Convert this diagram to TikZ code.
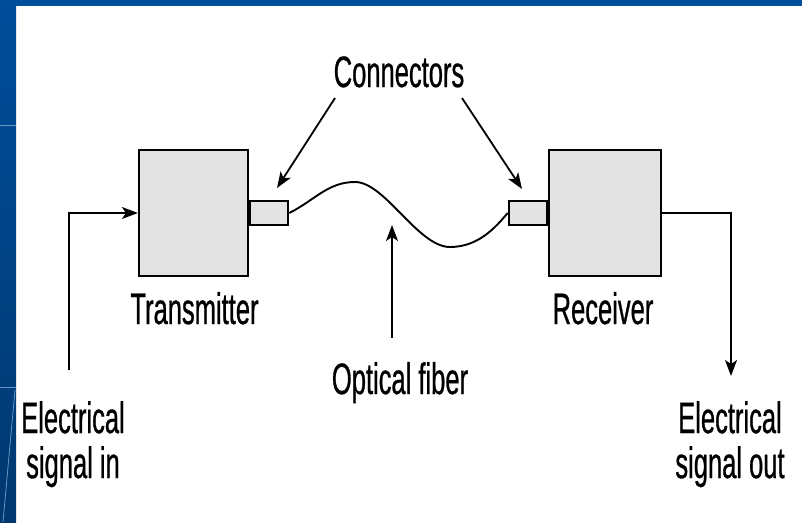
\documentclass[tikz,border=0pt]{standalone}
\usepackage{fontspec}
\usetikzlibrary{arrows.meta}
\newfontfamily\labfont[FakeStretch=0.58,FakeBold=0.6]{Liberation Sans}
\definecolor{slideblue}{HTML}{004D9A}
\definecolor{slidedark}{HTML}{00386F}
\definecolor{boxgray}{HTML}{E3E3E3}
\tikzset{
  blk/.style={draw=black, line width=2.2pt, fill=boxgray, inner sep=0pt},
  arr/.style={line width=1.8pt, -{Stealth[length=16pt,width=12pt,inset=4pt]}},
  wire/.style={line width=1.9pt},
  lab/.style={inner sep=0pt, font=\labfont\fontsize{44}{45}\selectfont, text=black},
}
\begin{document}
\begin{tikzpicture}[x=1pt,y=-1pt]
\useasboundingbox (0,0) rectangle (802,522);
% slide background
\fill[white] (0,0) rectangle (802,522);
\fill[slideblue] (0,0) rectangle (802,6);
\shade[top color=slideblue, bottom color=slidedark] (0,0) rectangle (16,522);
\draw[slideblue!60!white, line width=0.8pt] (0,125) -- (16,125);
\draw[slideblue!60!white, line width=0.8pt] (0,387) -- (16,387);
\draw[slideblue!60!white, line width=0.8pt] (15,390) -- (3,522);
% blocks
\node[blk, minimum width=109pt, minimum height=126pt] (tx) at (193.5,213) {};
\node[blk, minimum width=38pt, minimum height=24pt, anchor=west] (txc) at (tx.east) {};
\node[blk, minimum width=112pt, minimum height=126pt] (rx) at (605,213) {};
\node[blk, minimum width=38pt, minimum height=24pt, anchor=east] (rxc) at (rx.west) {};
% labels
\node[lab, anchor=base] (conn) at (399,87) {Connectors};
\node[lab, anchor=base] (txl) at (194.5,324) {Transmitter};
\node[lab, anchor=base] (rxl) at (603,324) {Receiver};
\node[lab, anchor=base] (fibl) at (400,394) {Optical fiber};
\node[lab, anchor=north, align=center] (inl) at (73,401) {Electrical\\signal in};
\node[lab, anchor=north, align=center] (outl) at (730,401) {Electrical\\signal out};
% fiber
\draw[wire, line join=round] (txc.east) .. controls (315,200) and (328,182) .. (355,182)
  .. controls (385,182) and (418,247) .. (450,247)
  .. controls (478,247) and (495,228) .. (rxc.west);
% arrows
\coordinate (c1s) at (335,98);
\coordinate (c1e) at (277,188);
\coordinate (c2s) at (462,98);
\coordinate (c2e) at (522,189);
\draw[arr] (c1s) -- (c1e);
\draw[arr] (c2s) -- (c2e);
\coordinate (fs) at (392,338);
\coordinate (fe) at (392,225);
\draw[arr] (fs) -- (fe);
\coordinate (ins) at (69,370);
\draw[arr] (ins) |- (tx.west);
\coordinate (oute) at (731,376);
\draw[arr] (rx.east) -| (oute);
\end{tikzpicture}
\end{document}
